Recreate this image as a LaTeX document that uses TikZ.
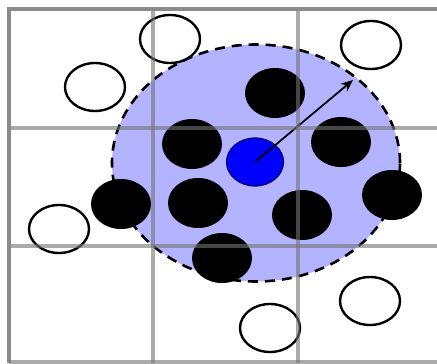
\documentclass[tikz,border=0pt]{standalone}
\usetikzlibrary{shapes.geometric,arrows.meta}
\definecolor{lav}{RGB}{179,179,255}
\definecolor{gridc}{RGB}{115,115,115}
\definecolor{framec}{RGB}{138,138,138}
\begin{document}
\begin{tikzpicture}[x=0.5pt,y=-0.5pt,
  region/.style={ellipse,draw=black,fill=lav,dash pattern=on 5pt off 3.5pt,line width=1.3pt,minimum width=144pt,minimum height=118.5pt,inner sep=0pt},
  empty/.style={ellipse,draw=black,fill=white,line width=1.2pt,minimum width=30pt,minimum height=24pt,inner sep=0pt},
  full/.style={ellipse,fill=black,minimum width=30pt,minimum height=25pt,inner sep=0pt},
  query/.style={ellipse,draw=black!60!blue,fill=blue,line width=0.6pt,minimum width=28.5pt,minimum height=24pt,inner sep=0pt},
  gridline/.style={draw=gridc,draw opacity=0.6,line width=2pt},
  frameline/.style={draw=framec,line width=2pt},
  radiusarrow/.style={-{Stealth[length=6pt,width=5pt]},line width=0.9pt}
]
\useasboundingbox (0,0) rectangle (437,363);
% region
\node[region] (big) at (256,163) {};
% empty points
\node[empty] (e1) at (170,39) {};
\node[empty] (e2) at (95,87) {};
\node[empty] (e3) at (371,45) {};
\node[empty] (e4) at (59,229) {};
\node[empty] (e5) at (370,301) {};
\node[empty] (e6) at (270,328) {};
% full points
\node[full] (f1) at (275,93) {};
\node[full] (f2) at (192,144) {};
\node[full] (f3) at (341,142) {};
\node[full] (f4) at (121,204) {};
\node[full] (f5) at (198,203) {};
\node[full] (f6) at (302,215) {};
\node[full] (f7) at (392,195) {};
\node[full] (f8) at (222,258) {};
% query point
\node[query] (q) at (255,162) {};
\coordinate (tip) at (353,80);
\draw[radiusarrow] (q.center) -- (tip);
% grid
\coordinate (v1t) at (153,9); \coordinate (v1b) at (153,363);
\coordinate (v2t) at (298,9); \coordinate (v2b) at (298,363);
\coordinate (h1l) at (9,128); \coordinate (h1r) at (437,128);
\coordinate (h2l) at (9,246); \coordinate (h2r) at (437,246);
\draw[gridline] (v1t) -- (v1b);
\draw[gridline] (v2t) -- (v2b);
\draw[gridline] (h1l) -- (h1r);
\draw[gridline] (h2l) -- (h2r);
% frame
\coordinate (tl) at (9,9); \coordinate (tr) at (437,9);
\coordinate (bl) at (9,363); \coordinate (br) at (437,362);
\coordinate (bl2) at (9,362);
\draw[frameline] (tr) -- (tl) -- (bl);
\draw[gridline] (bl2) -- (br);
\end{tikzpicture}
\end{document}
